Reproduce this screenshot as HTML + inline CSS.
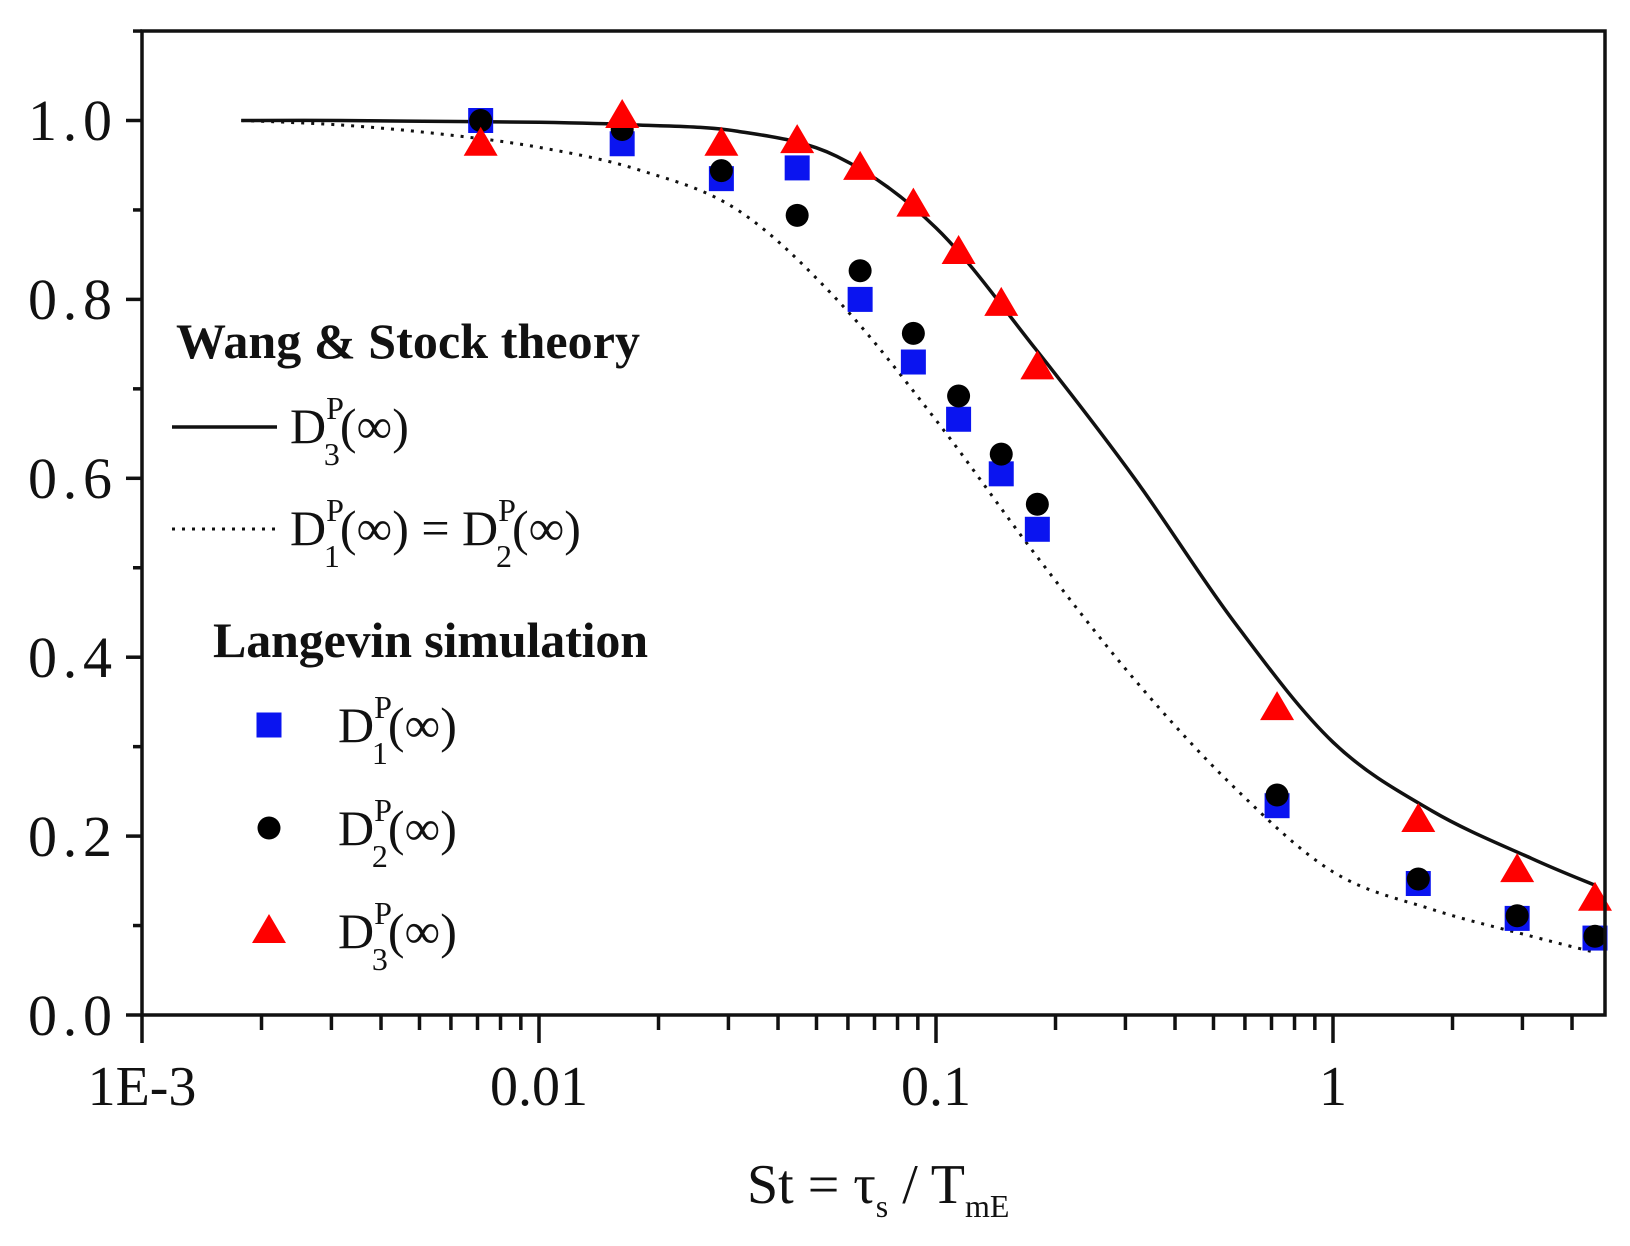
<!DOCTYPE html>
<html><head><meta charset="utf-8"><style>
html,body{margin:0;padding:0;background:#fff;}
svg{display:block;}
text{font-family:"Liberation Serif",serif;fill:#111;}
</style></head><body>
<svg id="s" width="1630" height="1246" viewBox="0 0 1630 1246" xmlns="http://www.w3.org/2000/svg">
<rect x="0" y="0" width="1630" height="1246" fill="#fff"/>
<g id="curves"></g>
<g id="marks"></g>
<rect x="142" y="31" width="1463" height="984" fill="none" stroke="#111" stroke-width="3.5"/>
<g id="ticks" stroke="#111" stroke-width="3.5"></g>
<g font-size="58" text-anchor="end">
<text x="112" y="1035" textLength="84">0.0</text>
<text x="112" y="856" textLength="84">0.2</text>
<text x="112" y="677" textLength="84">0.4</text>
<text x="112" y="498" textLength="84">0.6</text>
<text x="112" y="319" textLength="84">0.8</text>
<text x="112" y="140" textLength="84">1.0</text>
</g>
<g font-size="56" text-anchor="middle">
<text x="142" y="1105">1E-3</text>
<text x="539" y="1105">0.01</text>
<text x="936" y="1105">0.1</text>
<text x="1333" y="1105">1</text>
</g>
<text x="747" y="1203" font-size="56">St = τ<tspan font-size="32" dy="14">s</tspan><tspan dy="-14"> / T</tspan><tspan font-size="32" dy="14">mE</tspan></text>
<text x="176" y="358" font-size="50" font-weight="bold" textLength="464">Wang &amp; Stock theory</text>
<line x1="172" y1="427" x2="277" y2="427" stroke="#111" stroke-width="3.5"/>
<text x="290" y="443" font-size="50">D<tspan font-size="32" dy="-24">P</tspan><tspan font-size="32" dx="-20" dy="46">3</tspan><tspan dy="-22">(∞)</tspan></text>
<line x1="172" y1="529" x2="277" y2="529" stroke="#111" stroke-width="3" stroke-dasharray="3,7"/>
<text x="290" y="545" font-size="50">D<tspan font-size="32" dy="-24">P</tspan><tspan font-size="32" dx="-20" dy="46">1</tspan><tspan dy="-22">(∞) = D</tspan><tspan font-size="32" dy="-24">P</tspan><tspan font-size="32" dx="-20" dy="46">2</tspan><tspan dy="-22">(∞)</tspan></text>
<text x="213" y="657" font-size="50" font-weight="bold" textLength="435">Langevin simulation</text>
<text x="338" y="742" font-size="50">D<tspan font-size="32" dy="-24">P</tspan><tspan font-size="32" dx="-20" dy="46">1</tspan><tspan dy="-22">(∞)</tspan></text>
<text x="338" y="845" font-size="50">D<tspan font-size="32" dy="-24">P</tspan><tspan font-size="32" dx="-20" dy="46">2</tspan><tspan dy="-22">(∞)</tspan></text>
<text x="338" y="948" font-size="50">D<tspan font-size="32" dy="-24">P</tspan><tspan font-size="32" dx="-20" dy="46">3</tspan><tspan dy="-22">(∞)</tspan></text>
</svg>
<script>
var NS="http://www.w3.org/2000/svg";
function X(v){return 142+(Math.log10(v)+3)*397;}
function XL(l){return 142+(l+3)*397;}
function Y(v){return 1015-v*894.5;}
function el(p,t,a){var e=document.createElementNS(NS,t);for(var k in a)e.setAttribute(k,a[k]);p.appendChild(e);return e;}
var tk=document.getElementById('ticks');
for(var d=-3;d<=0;d++){for(var m=1;m<10;m++){var v=m*Math.pow(10,d);var x=X(v);if(x>1605)break;
 el(tk,'line',{x1:x,y1:1015,x2:x,y2:1015+(m==1?28:15)});}}
for(var i=0;i<=11;i++){var y=Y(i*0.1);el(tk,'line',{x1:142,y1:y,x2:142-(i%2==0?16:9),y2:y});}
function curve(ys,attrs){
 var P=[];for(var i=0;i<ys.length;i++){var l=-2.75+i*0.25;if(i==ys.length-1)l=0.66;P.push([XL(l),Y(ys[i])]);}
 var d="M"+P[0][0]+","+P[0][1];
 for(var i=0;i<P.length-1;i++){
  var p0=P[Math.max(0,i-1)],p1=P[i],p2=P[i+1],p3=P[Math.min(P.length-1,i+2)];
  var c1=[p1[0]+(p2[0]-p0[0])/6,p1[1]+(p2[1]-p0[1])/6];
  var c2=[p2[0]-(p3[0]-p1[0])/6,p2[1]-(p3[1]-p1[1])/6];
  d+=" C"+c1+" "+c2+" "+p2;
 }
 attrs.d=d;attrs.fill="none";el(document.getElementById('curves'),'path',attrs);
}
curve([1.0,1.0,0.999,0.998,0.995,0.988,0.96,0.88,0.745,0.6,0.44,0.305,0.228,0.175,0.145],{stroke:"#111","stroke-width":3.5});
curve([1.0,0.995,0.985,0.97,0.945,0.9,0.8,0.665,0.515,0.375,0.255,0.16,0.118,0.088,0.07],{stroke:"#111","stroke-width":3,"stroke-dasharray":"3,7"});
var xs=[0.00713,0.0162,0.0288,0.0447,0.0644,0.0877,0.114,0.146,0.180,0.723,1.64,2.91,4.57];
var sq=[1.0,0.974,0.935,0.947,0.80,0.730,0.666,0.605,0.543,0.234,0.147,0.108,0.086];
var ci=[1.0,0.99,0.944,0.894,0.832,0.762,0.692,0.627,0.571,0.246,0.152,0.111,0.088];
var tr=[0.974,1.005,0.974,0.977,0.947,0.906,0.853,0.795,0.724,0.343,0.218,0.162,0.130];
var mk=document.getElementById('marks');
function sqr(x,y){el(mk,'rect',{x:x-12.5,y:y-12.5,width:25,height:25,fill:"#0a14f0"});}
function cir(x,y){el(mk,'circle',{cx:x,cy:y,r:11.5,fill:"#000"});}
function tri(x,y){el(mk,'polygon',{points:(x-17)+","+(y+12)+" "+(x+17)+","+(y+12)+" "+x+","+(y-17),fill:"#f00"});}
for(var i=0;i<xs.length;i++){sqr(X(xs[i]),Y(sq[i]));}
for(var i=0;i<xs.length;i++){cir(X(xs[i]),Y(ci[i]));}
for(var i=0;i<xs.length;i++){tri(X(xs[i]),Y(tr[i]));}
sqr(269,725);cir(269,828);tri(269,931);
</script>
</body></html>
